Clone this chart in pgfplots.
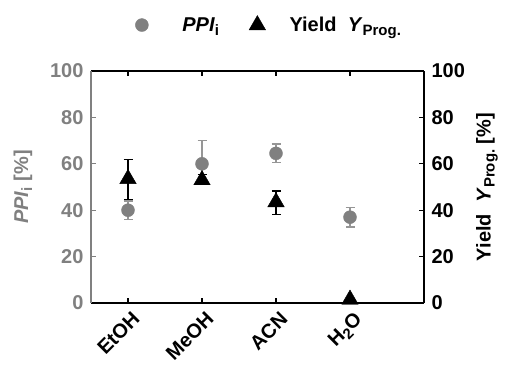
\documentclass[border=0pt]{standalone}
\usepackage{pgfplots}
\pgfplotsset{compat=1.18}
\usepackage{fontspec}
\setmainfont{Liberation Sans}
\definecolor{gr}{RGB}{128,128,128}
\definecolor{grerr}{RGB}{150,150,150}
\newcommand{\bigf}{\fontsize{20}{22}\selectfont\bfseries}
\newcommand{\sub}[1]{\raisebox{-4pt}{\fontsize{15}{16}\selectfont\bfseries #1}}
\begin{document}
\begin{tikzpicture}
\path[use as bounding box] (0,0) rectangle (505pt,364pt);
\begin{axis}[
  at={(91pt,61pt)}, anchor=south west,
  scale only axis, width=333pt, height=232pt,
  xmin=0.5, xmax=5, ymin=0, ymax=100,
  clip=false,
  axis x line*=box, axis y line*=left,
  xtick={1,2,3,4},
  xticklabels={EtOH,MeOH,ACN,H\sub{2}O},
  xtick pos=both,
  ytick={0,20,40,60,80,100},
  tick align=inside,
  major tick length=5pt,
  x axis line style={black, line width=1.3pt},
  y axis line style={gr, line width=1.3pt},
  x tick style={black, line width=1.2pt},
  y tick style={gr, line width=1.2pt},
  ticklabel style={font=\bigf},
  yticklabel style={gr, xshift=-4pt},
  xticklabel style={xshift=3pt, yshift=-6pt, rotate=45, anchor=north east, inner sep=1pt},
  /pgf/number format/assume math mode=true,
  legend style={draw=none, fill=none, font=\bigf, at={(axis description cs:0.535,1.198)}, anchor=center, legend columns=2, /tikz/every even column/.append style={column sep=28pt}},
  legend cell align=left,
]
\addplot[only marks, mark=*, mark size=6.5pt, mark options={fill=gr, draw=gr},
  error bars/.cd, y dir=both, y explicit,
  error bar style={grerr, line width=1.2pt},
  error mark options={rotate=90, mark size=4.5pt, grerr, line width=1.2pt}]
  coordinates {
    (1,40) += (0,4) -= (0,4)
    (2,60) += (0,10) -= (0,8)
    (3,64.5) += (0,4) -= (0,4)
    (4,37) += (0,4.2) -= (0,4.2)
  };
\addlegendentry{\hspace{32pt}\textit{PPI}\sub{i}}
\addplot[only marks, mark=triangle*, mark size=9.5pt, mark options={fill=black, draw=black},
  error bars/.cd, y dir=both, y explicit,
  error bar style={black, line width=1.2pt},
  error mark options={rotate=90, mark size=4.5pt, black, line width=1.2pt}]
  coordinates {
    (1,53.5) += (0,8.5) -= (0,9)
    (2,53) += (0,2.5) -= (0,2)
    (3,43.5) += (0,4.8) -= (0,5.3)
    (4,1.5) += (0,0.5) -= (0,0.5)
  };
\addlegendentry{\hspace{22pt}Yield\ \ \textit{Y}\sub{Prog.}}
\node[gr, rotate=90, font=\bigf] at (axis description cs:-0.204,0.5) {\textit{PPI}\sub{i} [\%]};
\end{axis}
\begin{axis}[
  at={(91pt,61pt)}, anchor=south west,
  scale only axis, width=333pt, height=232pt,
  xmin=0.5, xmax=5, ymin=0, ymax=100,
  clip=false,
  axis x line=none, axis y line*=right,
  ytick={0,20,40,60,80,100},
  tick align=inside,
  major tick length=5pt,
  y axis line style={black, line width=1.3pt},
  y tick style={black, line width=1.2pt},
  ticklabel style={font=\bigf},
  yticklabel style={xshift=4pt},
  /pgf/number format/assume math mode=true,
]
\node[black, rotate=90, font=\bigf] at (axis description cs:1.189,0.5) {Yield\ \ \textit{Y}\sub{Prog.} [\%]};
\end{axis}
\end{tikzpicture}
\end{document}
